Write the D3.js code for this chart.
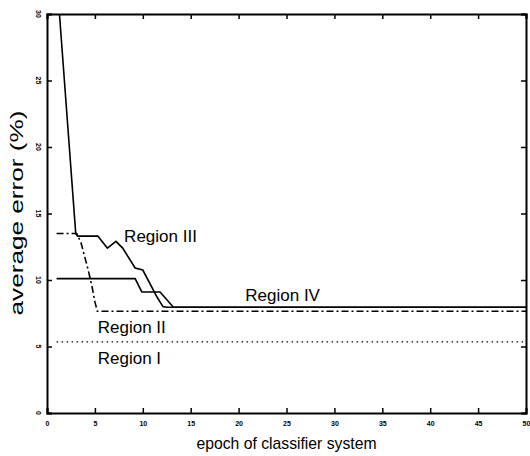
<!DOCTYPE html>
<html>
<head>
<meta charset="utf-8">
<script src="https://cdn.jsdelivr.net/npm/d3@7"></script>
<style>
  body { margin: 0; background: #fff; }
  svg { display: block; font-family: "Liberation Sans", Arial, sans-serif; }
</style>
</head>
<body>
<div id="vis"></div>
<script>
const FRAME_WIDTH = 530;
const FRAME_HEIGHT = 456;
const MARGINS = {top: 14, bottom: 43, left: 47, right: 4};
const VIS_WIDTH = FRAME_WIDTH - MARGINS.left - MARGINS.right;
const VIS_HEIGHT = FRAME_HEIGHT - MARGINS.top - MARGINS.bottom;

// Region III (solid, starts high)
const epochsA = [1.3, 3.0, 3.2, 5.3, 6.3, 7.2, 7.9, 9.2, 10.0, 11.5, 12.1, 12.5, 50];
const errorA  = [30, 13.5, 13.3, 13.3, 12.4, 12.9, 12.4, 10.9, 10.75, 8.7, 8.0, 7.95, 7.95];
// Region II (dash-dot)
const epochsB = [1.0, 3.1, 3.55, 4.3, 4.7, 5.0, 5.25, 50];
const errorB  = [13.5, 13.5, 12.8, 10.75, 9.5, 8.35, 7.65, 7.65];
// Region IV (solid, starts at 10)
const epochsC = [1.0, 9.2, 9.9, 11.8, 13.2, 50];
const errorC  = [10.1, 10.1, 9.1, 9.1, 7.95, 7.95];
// Region I (dotted)
const epochsD = [1.0, 50];
const errorD  = [5.35, 5.35];

const xTicks = [0, 5, 10, 15, 20, 25, 30, 35, 40, 45, 50];
const yTicks = [0, 5, 10, 15, 20, 25, 30];

const regionNames = ["Region III", "Region IV", "Region II", "Region I"];
const regionEpoch = [8.05, 20.7, 5.3, 5.3];
const regionError = [12.85, 8.4, 6.0, 3.7];

const FRAME1 = d3.select("#vis")
  .append("svg")
    .attr("width", FRAME_WIDTH)
    .attr("height", FRAME_HEIGHT);

const X_SCALE = d3.scaleLinear().domain([0, 50]).range([0, VIS_WIDTH]);
const Y_SCALE = d3.scaleLinear().domain([0, 30]).range([VIS_HEIGHT, 0]);

const plot = FRAME1.append("g")
  .attr("transform", `translate(${MARGINS.left},${MARGINS.top})`);

// axes with inward ticks
const axisBottomG = plot.append("g")
  .attr("transform", `translate(0,${VIS_HEIGHT})`)
  .call(d3.axisBottom(X_SCALE).tickValues(xTicks).tickSize(-5).tickPadding(8));
const axisTopG = plot.append("g")
  .call(d3.axisTop(X_SCALE).tickValues(xTicks).tickSize(-5).tickFormat(""));
const axisLeftG = plot.append("g")
  .call(d3.axisLeft(Y_SCALE).tickValues(yTicks).tickSize(-5).tickFormat(""));
const axisRightG = plot.append("g")
  .attr("transform", `translate(${VIS_WIDTH},0)`)
  .call(d3.axisRight(Y_SCALE).tickValues(yTicks).tickSize(-5).tickFormat(""));

[axisBottomG, axisTopG, axisLeftG, axisRightG].forEach(g => {
  g.select(".domain").attr("stroke", "#000").attr("stroke-width", 2);
  g.selectAll(".tick line").attr("stroke", "#000").attr("stroke-width", 1.5);
});
axisBottomG.selectAll(".tick text")
  .attr("font-size", 7)
  .attr("font-weight", "bold")
  .attr("fill", "#000");

// y tick labels, turned sideways like the scan
plot.selectAll(".ylab")
  .data(yTicks)
  .enter()
  .append("text")
    .attr("transform", d => `translate(-9,${Y_SCALE(d)}) rotate(90)`)
    .attr("text-anchor", "middle")
    .attr("dy", "0.35em")
    .attr("font-size", 7)
    .attr("font-weight", "bold")
    .text(d => d);

// lines
const line = d3.line()
  .x(d => X_SCALE(d[0]))
  .y(d => Y_SCALE(d[1]));

const series = [
  {x: epochsA, y: errorA, dash: null, w: 1.6},
  {x: epochsC, y: errorC, dash: null, w: 1.6},
  {x: epochsB, y: errorB, dash: "7,3,2,3", w: 1.6},
  {x: epochsD, y: errorD, dash: "1.5,3.5", w: 1.3}
];

series.forEach(s => {
  plot.append("path")
    .datum(d3.zip(s.x, s.y))
    .attr("fill", "none")
    .attr("stroke", "#000")
    .attr("stroke-width", s.w)
    .attr("stroke-dasharray", s.dash)
    .attr("d", line);
});

// region labels
plot.selectAll(".region")
  .data(regionNames)
  .enter()
  .append("text")
    .attr("x", (d, i) => X_SCALE(regionEpoch[i]))
    .attr("y", (d, i) => Y_SCALE(regionError[i]))
    .attr("font-size", 17)
    .attr("fill", "#000")
    .text(d => d);

// axis titles
FRAME1.append("text")
  .attr("x", MARGINS.left + VIS_WIDTH / 2)
  .attr("y", 449)
  .attr("text-anchor", "middle")
  .attr("font-size", 17)
  .attr("textLength", 180)
  .attr("lengthAdjust", "spacingAndGlyphs")
  .text("epoch of classifier system");

FRAME1.append("text")
  .attr("transform", "translate(23,213) rotate(-90)")
  .attr("text-anchor", "middle")
  .attr("font-size", 19)
  .attr("textLength", 205)
  .attr("lengthAdjust", "spacingAndGlyphs")
  .text("average error (%)");
</script>
</body>
</html>
